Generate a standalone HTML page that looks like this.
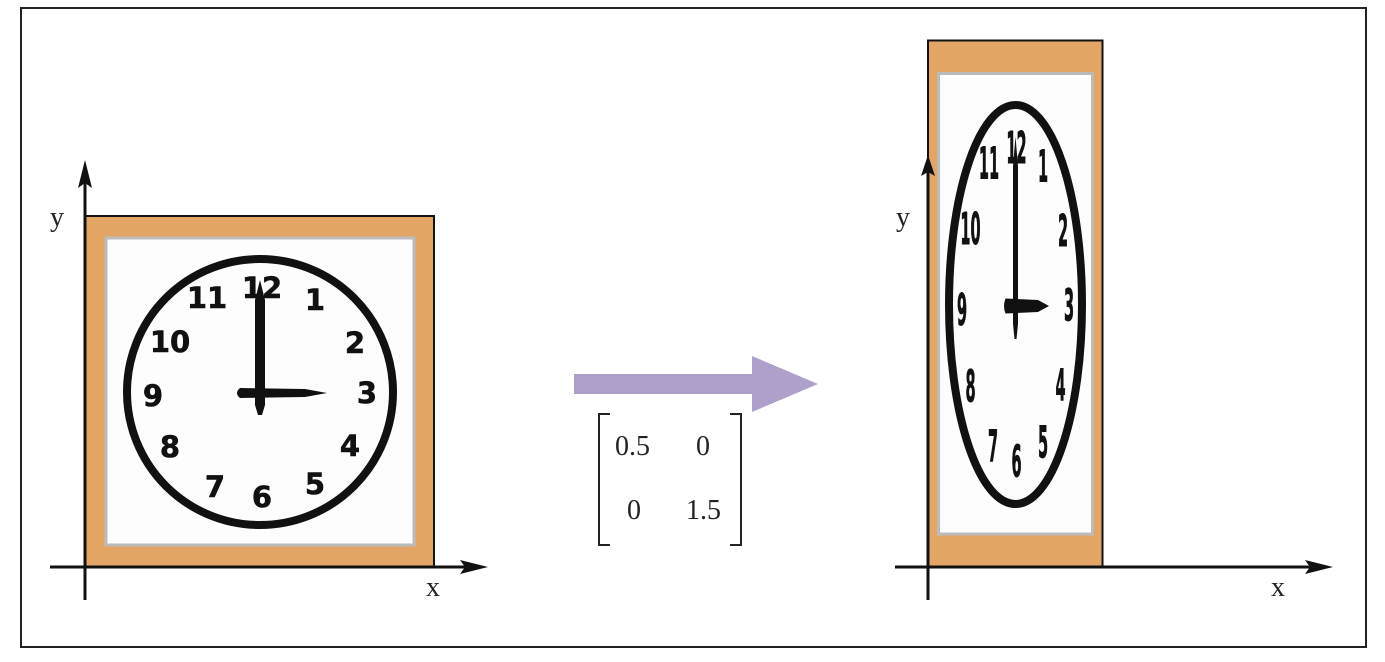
<!DOCTYPE html>
<html><head><meta charset="utf-8"><style>
html,body{margin:0;padding:0;background:#fff;}
svg{display:block;}
.n{font-family:"DejaVu Sans","Liberation Sans",sans-serif;font-weight:bold;font-size:29px;fill:#111;stroke:#111;stroke-width:0.6;text-anchor:middle;dominant-baseline:central;}
.s{font-family:"Liberation Serif",serif;font-size:28px;fill:#222;}
</style></head><body>
<svg width="1385" height="662" viewBox="0 0 1385 662" xmlns="http://www.w3.org/2000/svg">
<rect x="21" y="8" width="1345" height="639" fill="#fff" stroke="#222" stroke-width="2"/>
<defs>
<g id="clk">
<rect x="85" y="216" width="349" height="351" fill="#e3a566" stroke="#111" stroke-width="2" vector-effect="non-scaling-stroke"/>
<rect x="106" y="238" width="308" height="307" fill="#fdfdfd" stroke="#bbb" stroke-width="3" vector-effect="non-scaling-stroke"/>
<circle cx="260" cy="392" r="133" fill="none" stroke="#111" stroke-width="8" vector-effect="non-scaling-stroke"/>
<text class="n" x="262" y="288">12</text>
<text class="n" x="207" y="298">11</text>
<text class="n" x="315" y="300">1</text>
<text class="n" x="170" y="342">10</text>
<text class="n" x="355" y="343">2</text>
<text class="n" x="153" y="396">9</text>
<text class="n" x="367" y="393">3</text>
<text class="n" x="170" y="447">8</text>
<text class="n" x="350" y="446">4</text>
<text class="n" x="215" y="487">7</text>
<text class="n" x="262" y="497">6</text>
<text class="n" x="315" y="484">5</text>
<path d="M260 280 L265 300 L265 405 L262 415 L258 415 L255 405 L255 300 Z" fill="#111"/>
<path d="M240 388 L305 389 L327 393 L305 397 L240 398 Q234 393 240 388 Z" fill="#111"/>
</g>
</defs>
<use href="#clk"/>
<use href="#clk" transform="translate(928,567) scale(0.5,1.5) translate(-85,-567)"/>
<!-- left axes -->
<line x1="85" y1="170" x2="85" y2="600" stroke="#111" stroke-width="3"/>
<path d="M85 160 L78 188 L85 183 L92 188 Z" fill="#111"/>
<line x1="50" y1="567" x2="478" y2="567" stroke="#111" stroke-width="3"/>
<path d="M488 567 L460 560 L465 567 L460 574 Z" fill="#111"/>
<text class="s" x="50" y="226">y</text>
<text class="s" x="426" y="596">x</text>
<!-- right axes -->
<line x1="928" y1="165" x2="928" y2="600" stroke="#111" stroke-width="3"/>
<path d="M928 155 L921 176 L928 172 L935 176 Z" fill="#111"/>
<line x1="895" y1="567" x2="1322" y2="567" stroke="#111" stroke-width="3"/>
<path d="M1333 567 L1305 560 L1310 567 L1305 574 Z" fill="#111"/>
<text class="s" x="896" y="226">y</text>
<text class="s" x="1271" y="596">x</text>
<!-- arrow -->
<rect x="574" y="374" width="182" height="20" fill="#ae9fcb"/>
<path d="M752 356 L818 384 L752 412 Z" fill="#ae9fcb"/>
<!-- matrix -->
<path d="M610 414 L599 414 L599 545 L610 545" fill="none" stroke="#222" stroke-width="2"/>
<path d="M730 414 L741 414 L741 545 L730 545" fill="none" stroke="#222" stroke-width="2"/>
<text class="s" x="615" y="455">0.5</text>
<text class="s" x="696" y="455">0</text>
<text class="s" x="627" y="519">0</text>
<text class="s" x="686" y="519">1.5</text>
</svg>
</body></html>
